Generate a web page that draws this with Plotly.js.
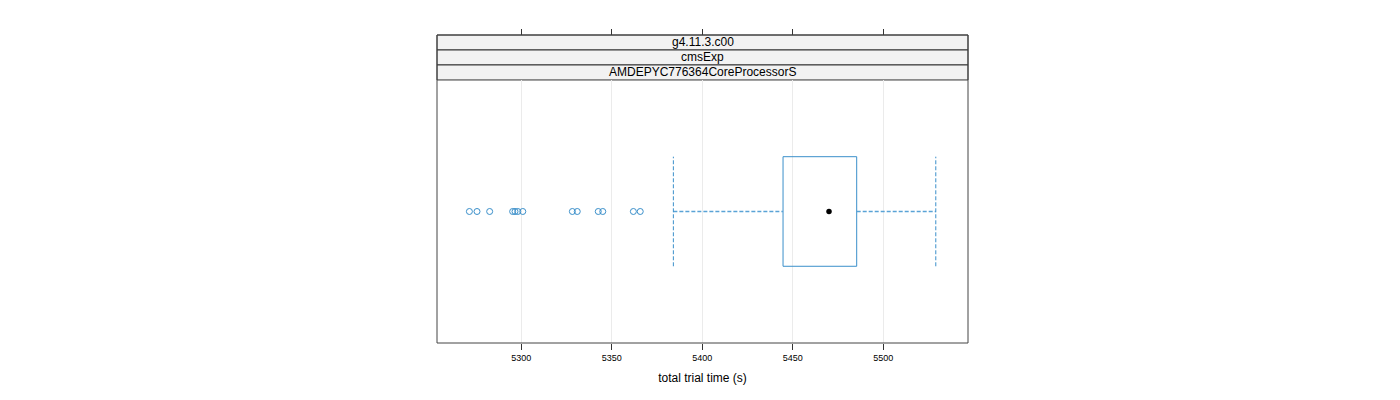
<!DOCTYPE html>
<html>
<head>
<meta charset="utf-8">
<script src="https://cdn.plot.ly/plotly-3.0.1.min.js"></script>
<style>html,body{margin:0;padding:0;background:#fff;}#chart{width:1400px;height:400px;}</style>
</head>
<body>
<div id="chart"></div>
<script>
// ---- data ----
const stripLabels = ["g4.11.3.c00", "cmsExp", "AMDEPYC776364CoreProcessorS"];
const boxStats = { lowerWhisker: 5384, q1: 5444.6, median: 5470, q3: 5485.3, upperWhisker: 5529 };
const outliers = [5271.3, 5275.5, 5282.5, 5295.2, 5296.5, 5298, 5300.8, 5328.2, 5330.9, 5342.5, 5345, 5361.9, 5365.7];
const tickValues = [5300, 5350, 5400, 5450, 5500];
const xTitle = "total trial time (s)";

// ---- style ----
const blue = "#3a8fca";
const level = 1;
const half = 0.25;
const xRange = [5253.4, 5546.8];
const yRange = [0.4, 1.6];
const stripTop = 1.0, plotTop = 0.854;
const font = "Liberation Sans, Arial, sans-serif";

const traces = [];
// box rectangle
traces.push({
  type: "scatter", mode: "lines", hoverinfo: "skip", showlegend: false,
  x: [boxStats.q1, boxStats.q3, boxStats.q3, boxStats.q1, boxStats.q1],
  y: [level - half, level - half, level + half, level + half, level - half],
  line: { color: blue, width: 1 }
});
// whiskers (horizontal)
traces.push({
  type: "scatter", mode: "lines", hoverinfo: "skip", showlegend: false,
  x: [boxStats.lowerWhisker, boxStats.q1, null, boxStats.q3, boxStats.upperWhisker],
  y: [level, level, null, level, level],
  line: { color: "#5aa3d6", width: 1.3, dash: "4px,2px" }
});
// whisker end caps
traces.push({
  type: "scatter", mode: "lines", hoverinfo: "skip", showlegend: false,
  x: [boxStats.lowerWhisker, boxStats.lowerWhisker, null, boxStats.upperWhisker, boxStats.upperWhisker],
  y: [level - half, level + half, null, level - half, level + half],
  line: { color: blue, width: 1, dash: "4px,2px" }
});
// outliers
traces.push({
  type: "scatter", mode: "markers", showlegend: false,
  x: outliers, y: outliers.map(() => level),
  marker: { symbol: "circle-open", size: 6, color: blue, line: { width: 1, color: blue } }
});
// median dot
traces.push({
  type: "scatter", mode: "markers", showlegend: false,
  x: [boxStats.median], y: [level],
  marker: { symbol: "circle", size: 5.5, color: "#000" }
});
// invisible trace for top axis
traces.push({
  type: "scatter", mode: "markers", showlegend: false, hoverinfo: "skip",
  x: [boxStats.median], y: [level], xaxis: "x2", yaxis: "y",
  marker: { opacity: 0 }
});

const shapes = [];
// strips
const sh = (stripTop - plotTop) / stripLabels.length;
const annotations = [];
stripLabels.forEach((lab, i) => {
  const y1 = stripTop - i * sh, y0 = y1 - sh;
  shapes.push({ type: "rect", xref: "paper", yref: "paper", x0: 0, x1: 1, y0: y0, y1: y1,
    fillcolor: "#f2f2f2", line: { color: "#333", width: 1 }, layer: "below" });
  annotations.push({ xref: "paper", yref: "paper", x: 0.5, y: (y0 + y1) / 2, text: lab,
    showarrow: false, xanchor: "center", yanchor: "middle",
    font: { family: font, size: 12, color: "#000" } });
});
// panel border
shapes.push({ type: "rect", xref: "paper", yref: "paper", x0: 0, x1: 1, y0: 0, y1: 1,
  line: { color: "#444", width: 1 }, fillcolor: "rgba(0,0,0,0)", layer: "above" });

const layout = {
  width: 1400, height: 400,
  margin: { l: 437, r: 432, t: 35, b: 57, pad: 0 },
  paper_bgcolor: "#fff", plot_bgcolor: "#fff",
  showlegend: false,
  font: { family: font, color: "#000" },
  xaxis: {
    range: xRange, tickvals: tickValues, ticktext: tickValues.map(String),
    ticks: "outside", ticklen: 6, tickcolor: "#333", tickwidth: 1,
    showgrid: true, gridcolor: "#ebebeb", gridwidth: 1,
    zeroline: false, showline: false,
    tickfont: { family: font, size: 9, color: "#000" },
    title: { text: xTitle, font: { family: font, size: 12, color: "#000" }, standoff: 11 },
    anchor: "y", fixedrange: true
  },
  xaxis2: {
    range: xRange, tickvals: tickValues, showticklabels: false,
    ticks: "outside", ticklen: 6, tickcolor: "#333", tickwidth: 1,
    showgrid: false, zeroline: false, showline: false,
    overlaying: "x", side: "top", anchor: "free", position: 1
  },
  yaxis: {
    range: yRange, domain: [0, plotTop], showticklabels: false, ticks: "",
    showgrid: false, zeroline: false, showline: false, fixedrange: true
  },
  shapes: shapes,
  annotations: annotations
};

Plotly.newPlot("chart", traces, layout, { displayModeBar: false, staticPlot: true });
</script>
</body>
</html>
